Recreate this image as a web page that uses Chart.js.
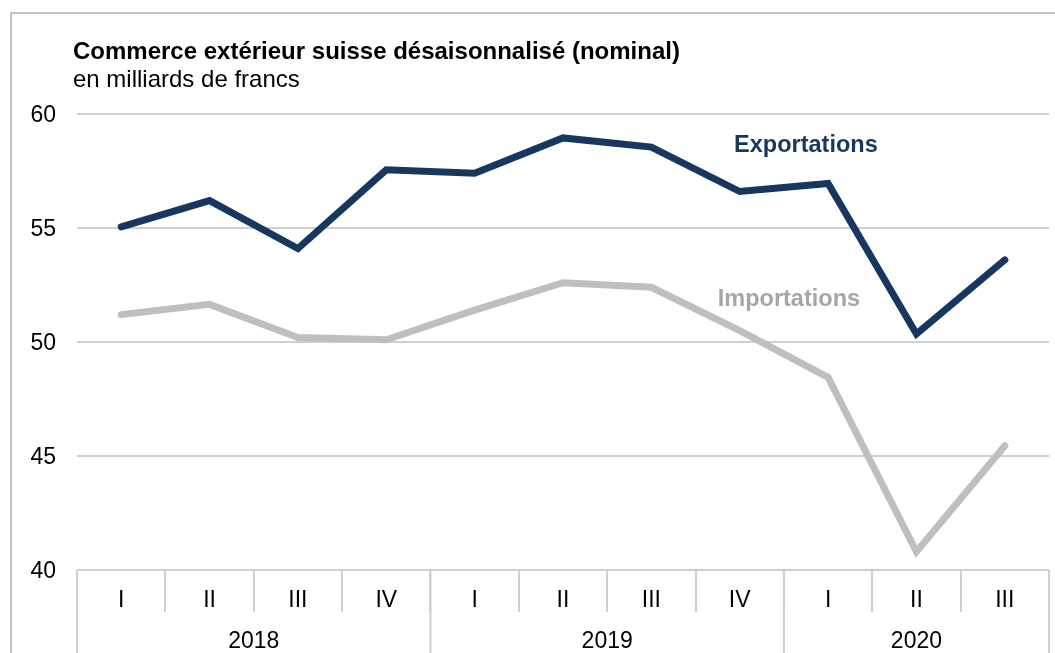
<!DOCTYPE html>
<html lang="fr">
<head>
<meta charset="utf-8">
<title>Commerce extérieur suisse</title>
<script src="https://cdn.jsdelivr.net/npm/chart.js@4"></script>
<style>
    body { margin: 0; background: #fff; overflow: hidden; }
    #frame {
        position: absolute; left: 10px; top: 12px; width: 1100px; height: 700px;
        border-left: 2px solid #c4c4c4; border-top: 2px solid #c4c4c4;
    }
    #chart { position: absolute; left: 0; top: 0; }
</style>
</head>
<body>
<div id="frame"></div>
<canvas id="chart" width="1055" height="653"></canvas>
<script>
// Data
const quarters = ['I', 'II', 'III', 'IV', 'I', 'II', 'III', 'IV', 'I', 'II', 'III'];
const years = ['2018', '2019', '2020'];
const quartersPerYear = [4, 4, 3];
const exportations = [55.05, 56.2, 54.1, 57.55, 57.4, 58.95, 58.55, 56.6, 56.95, 50.35, 53.6];
const importations = [51.2, 51.65, 50.2, 50.1, 51.4, 52.6, 52.4, 50.5, 48.45, 40.8, 45.45];
const yTicks = [40, 45, 50, 55, 60];

const FONT = "'Liberation Sans', Arial, sans-serif";
const NAVY = '#17375e';
const GREY = '#bfbfbf';
const LINE_GREY = '#cfcfcf';

// Titles, series labels and the year row of the x axis
const decorPlugin = {
    id: 'decor',
    afterDraw: function (chart) {
        const ctx = chart.ctx;
        const x = chart.scales.x;
        const y = chart.scales.y;
        const area = chart.chartArea;
        const step = x.getPixelForValue(1) - x.getPixelForValue(0);

        ctx.save();
        ctx.fillStyle = '#000';
        ctx.textAlign = 'left';
        ctx.textBaseline = 'alphabetic';
        ctx.font = 'bold 24px ' + FONT;
        ctx.fillText('Commerce extérieur suisse désaisonnalisé (nominal)', 73, 59);
        ctx.font = '24px ' + FONT;
        ctx.fillText('en milliards de francs', 73, 87);

        // series labels
        const mid = (x.getPixelForValue(7) + x.getPixelForValue(8)) / 2;
        ctx.textAlign = 'center';
        ctx.textBaseline = 'middle';
        ctx.font = 'bold 23.5px ' + FONT;
        ctx.fillStyle = NAVY;
        ctx.fillText('Exportations', mid + 22, y.getPixelForValue(58.6));
        ctx.fillStyle = '#a6a6a6';
        ctx.fillText('Importations', mid + 5, y.getPixelForValue(51.85));

        // year groups
        ctx.strokeStyle = LINE_GREY;
        ctx.lineWidth = 2;
        ctx.fillStyle = '#000';
        ctx.font = '23px ' + FONT;
        let start = 0;
        const drawEdge = function (px) {
            ctx.beginPath();
            ctx.moveTo(px, area.bottom);
            ctx.lineTo(px, chart.height);
            ctx.stroke();
        };
        drawEdge(x.getPixelForValue(0) - step / 2);
        quartersPerYear.forEach(function (n, i) {
            const first = x.getPixelForValue(start);
            const last = x.getPixelForValue(start + n - 1);
            drawEdge(last + step / 2);
            ctx.fillText(years[i], (first + last) / 2, 642);
            start += n;
        });
        ctx.restore();
    }
};

new Chart(document.getElementById('chart').getContext('2d'), {
    type: 'line',
    data: {
        labels: quarters,
        datasets: [{
            label: 'Exportations',
            data: exportations,
            borderColor: NAVY,
            borderWidth: 7,
            borderCapStyle: 'round',
            pointRadius: 0,
            tension: 0
        }, {
            label: 'Importations',
            data: importations,
            borderColor: GREY,
            borderWidth: 7,
            borderCapStyle: 'round',
            pointRadius: 0,
            tension: 0
        }]
    },
    options: {
        responsive: false,
        animation: false,
        layout: { padding: { top: 114, right: 6, left: 0, bottom: 0 } },
        plugins: {
            legend: { display: false },
            tooltip: { enabled: false }
        },
        scales: {
            x: {
                offset: true,
                afterFit: function (scale) { scale.height = 83; },
                border: { display: false },
                grid: {
                    offset: true,
                    drawOnChartArea: false,
                    drawTicks: true,
                    tickLength: 42,
                    color: LINE_GREY,
                    lineWidth: 2
                },
                ticks: {
                    color: '#000',
                    padding: -25,
                    maxRotation: 0,
                    autoSkip: false,
                    font: { family: FONT, size: 23 }
                }
            },
            y: {
                min: 40,
                max: 60,
                afterFit: function (scale) { scale.width = 77; },
                afterBuildTicks: function (scale) {
                    scale.ticks = yTicks.map(v => ({ value: v }));
                },
                border: { display: false },
                grid: { color: LINE_GREY, lineWidth: 2, drawTicks: false },
                ticks: {
                    color: '#000',
                    padding: 21,
                    labelOffset: 2,
                    font: { family: FONT, size: 23 }
                }
            }
        }
    },
    plugins: [decorPlugin]
});
</script>
</body>
</html>
